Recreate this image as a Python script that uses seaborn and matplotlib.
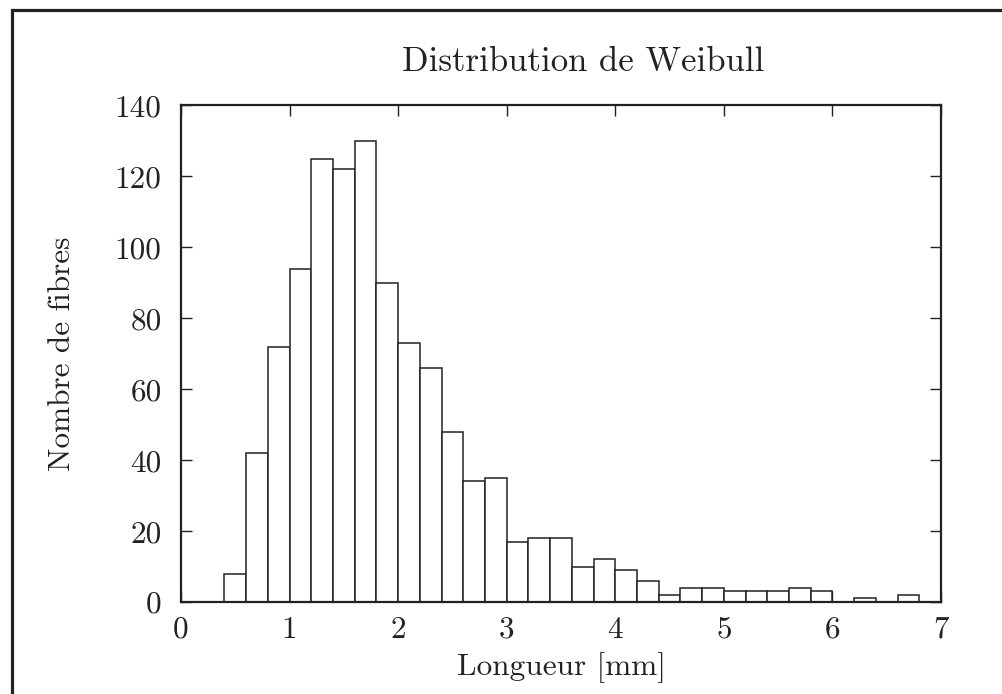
import numpy as np
import pandas as pd
import matplotlib
matplotlib.use("Agg")
import matplotlib.pyplot as plt
from matplotlib.lines import Line2D
import seaborn as sns

# ---- data ----
bin_left = [0.4, 0.6, 0.8, 1.0, 1.2, 1.4, 1.6, 1.8, 2.0, 2.2, 2.4, 2.6, 2.8, 3.0,
            3.2, 3.4, 3.6, 3.8, 4.0, 4.2, 4.4, 4.6, 4.8, 5.0, 5.2, 5.4, 5.6, 5.8,
            6.0, 6.2, 6.4, 6.6]
counts = [8, 42, 72, 94, 125, 122, 130, 90, 73, 66, 48, 34, 35, 17,
          18, 18, 10, 12, 9, 6, 2, 4, 4, 3, 3, 3, 4, 3,
          0, 1, 0, 2]
bin_width = 0.2
x_ticks = [0, 1, 2, 3, 4, 5, 6, 7]
y_ticks = [0, 20, 40, 60, 80, 100, 120, 140]
title = "Distribution de Weibull"
xlabel = "Longueur [mm]"
ylabel = "Nombre de fibres"

sns.set_theme(style="ticks")
plt.rcParams['font.family'] = ['cmr10', 'DejaVu Serif']
plt.rcParams['axes.formatter.use_mathtext'] = True
plt.rcParams['mathtext.fontset'] = 'cm'

W, H = 1002, 694
fig = plt.figure(figsize=(W / 100, H / 100), dpi=100)
ax = fig.add_axes([181 / W, 1 - 602 / H, (941 - 181) / W, (602 - 105.3) / H])

centers = np.array(bin_left) + bin_width / 2
edges = list(np.array(bin_left)) + [bin_left[-1] + bin_width]
df = pd.DataFrame({"x": centers, "n": counts})
sns.histplot(data=df, x="x", weights="n", bins=edges, ax=ax,
             color="white", edgecolor="#222222", linewidth=1.1, alpha=1)

ax.set_xlim(0, 7)
ax.set_ylim(0, 140)
ax.set_xticks(x_ticks)
ax.set_yticks(y_ticks)
ax.set_xticklabels([str(v) for v in x_ticks])
ax.set_yticklabels([str(v) for v in y_ticks])
ax.tick_params(direction="in", length=8, width=1.0, colors="#222222",
               labelsize=22.5, top=True, right=True, labelcolor="#222222")
ax.tick_params(axis="y", pad=14)
ax.tick_params(axis="x", pad=10)
for s in ax.spines.values():
    s.set_linewidth(1.6)
    s.set_color("#222222")

ax.set_xlabel(xlabel, fontsize=22.5, color="#222222", labelpad=6)
ax.set_ylabel(ylabel, fontsize=22.5, color="#222222", labelpad=28)
fig.text(583 / W, 1 - 62 / H, title, fontsize=25, color="#222222",
         ha="center", va="center")

# page frame (top and left edges)
lw = 2.3
fig.add_artist(Line2D([12 / W, 1.0], [1 - 9.5 / H, 1 - 9.5 / H],
                      transform=fig.transFigure, color="#222222", lw=lw))
fig.add_artist(Line2D([12 / W, 12 / W], [0.0, 1 - 9.5 / H],
                      transform=fig.transFigure, color="#222222", lw=lw,
                      solid_capstyle="projecting"))

fig.savefig("out.png", dpi=100, facecolor="white")
